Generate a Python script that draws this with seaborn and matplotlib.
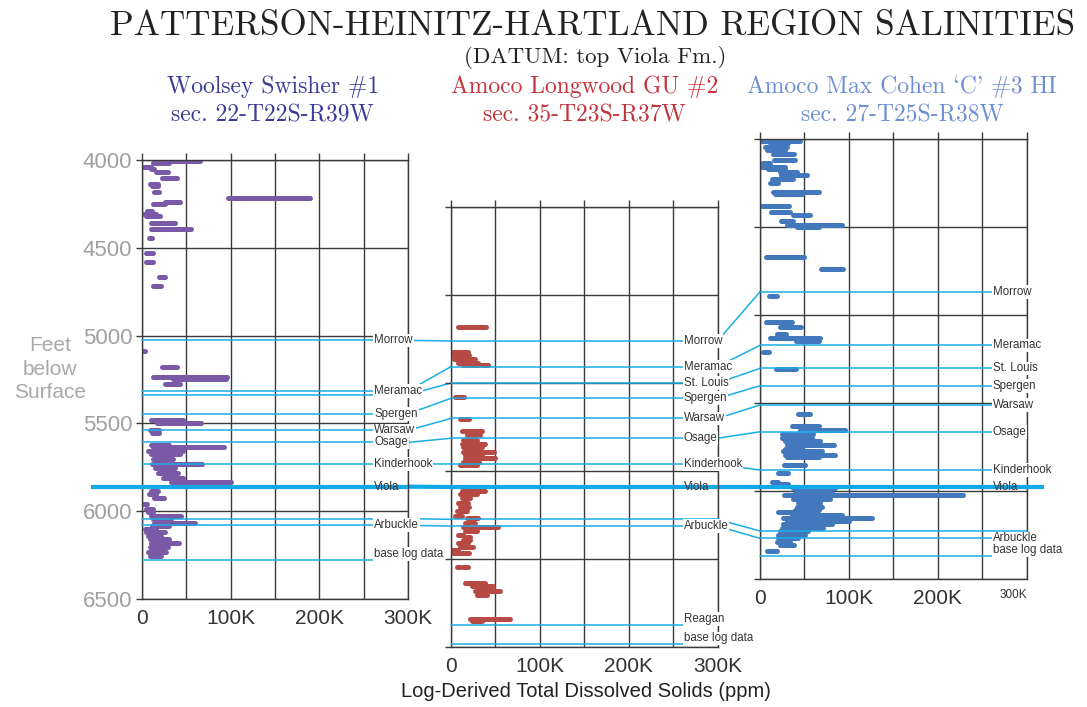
import matplotlib
matplotlib.use('Agg')
import matplotlib.pyplot as plt
from matplotlib.patches import ConnectionPatch
import seaborn as sns

# Woolsey Swisher #1 -- salinity intervals: depth (ft), TDS start/end (K ppm)
ws_depth = [4006, 4017, 4038, 4051, 4070, 4104, 4138, 4147, 4184, 4218, 4237, 4248,
            4288, 4305, 4319, 4361, 4395, 4441, 4532, 4581, 4667, 4716, 5085, 5176,
            5237, 5245, 5278, 5483, 5500, 5540, 5557, 5625, 5636, 5657, 5676, 5701,
            5733, 5752, 5780, 5809, 5833, 5847, 5885, 5904, 5923, 5960, 5985, 6004,
            6027, 6046, 6065, 6084, 6102, 6121, 6140, 6159, 6182, 6205, 6231, 6253]
ws_lo = [27, 12, 2, 10, 16, 22.5, 9.4, 11, 14, 97, 25.5, 12,
         5.6, 2, 5, 10.5, 10, 8, 5, 4.5, 19.6, 12, 0.5, 22.5,
         12, 35, 26, 10.5, 17.3, 8.6, 11, 10.5, 12.4, 6.8, 10.5, 12.4,
         11.3, 14.3, 18, 23.7, 33, 40, 10, 7.5, 13.5, 2, 4.9, 6.8,
         10.5, 12.4, 13.5, 11, 3, 5, 7, 8.6, 10.5, 8.6, 6.8, 8.6]
ws_hi = [65, 31, 10.5, 14, 29, 39.5, 18, 18, 19, 190, 42.5, 25.6,
         11, 16, 20, 37.6, 55.6, 11.7, 13, 12.8, 26, 21, 3.4, 40,
         95.5, 95, 43, 46, 67, 18.8, 18.8, 31, 92, 46, 42.5, 35,
         67.7, 36.8, 40.6, 46, 100, 98, 18, 16, 25, 6, 12.4, 12.4,
         43.7, 33, 60, 30, 16, 25.6, 21, 31, 41.4, 29.3, 27, 22]

# Amoco Longwood GU #2
lw_depth = [5684, 5822, 5841, 5865, 5884, 5898, 6078, 6205, 6273, 6296, 6324, 6347,
            6366, 6390, 6409, 6424, 6447, 6466, 6612, 6631, 6655, 6680, 6706, 6730,
            6753, 6769, 6797, 6817, 6839, 6864, 6877, 6891, 6911, 6930, 6949, 6968,
            7047, 7047, 7134, 7153, 7180, 7203, 7343, 7350]
lw_lo = [8.3, 2.6, 2.6, 3.8, 8.3, 14, 4.5, 10, 12, 17.6, 14, 12,
         14, 14, 15.8, 15.8, 14, 10, 12, 10, 12, 8.3, 10, 6.4,
         4.5, 17.6, 15.8, 14, 15.8, 7.5, 15.8, 14, 8.3, 10, 1.5, 2.6,
         6.4, 14, 15.8, 23.3, 27, 28.9, 21, 24]
lw_hi = [39, 19.5, 20, 27, 30, 42, 15, 20, 34.5, 32.6, 29, 38,
         35, 48, 35, 49.6, 31, 29, 38, 29, 21, 19.5, 20, 17.6,
         12, 30.8, 27, 53, 29, 14, 21, 21, 19.5, 25, 8.3, 20,
         10, 19.5, 38, 47.6, 55, 40, 66.5, 35]

# Amoco Max Cohen 'C' #3 HI
mc_depth = [4011, 4025, 4044, 4062, 4087, 4119, 4138, 4157, 4172, 4186, 4205, 4229,
            4252, 4299, 4311, 4379, 4413, 4432, 4464, 4489, 4498, 4669, 4739, 4890,
            5042, 5068, 5110, 5133, 5145, 5212, 5309, 5563, 5629, 5655, 5678, 5697,
            5716, 5739, 5761, 5772, 5795, 5804, 5852, 5896, 5951, 5962, 5981, 6004,
            6023, 6045, 6069, 6088, 6107, 6121, 6136, 6152, 6171, 6190, 6209, 6228,
            6247, 6266, 6289, 6309, 6341]
mc_lo = [1.9, 11, 5.6, 7.5, 15, 16, 1.9, 2.6, 9.4, 22.5, 24, 13,
         11, 15, 17, 2.6, 12.4, 37.6, 24, 30, 41.4, 6.4, 68.8, 10,
         6.4, 22.5, 19.5, 11, 40, 3, 18, 42.5, 36.5, 45, 24.4, 24.4,
         28, 30, 28, 26, 28, 30, 27, 20, 14, 17, 37.6, 39.5,
         27, 37.6, 43, 41.4, 39.5, 20.7, 35.7, 26, 30, 26, 24.4, 22.5,
         20.7, 20, 18.8, 22.5, 7.5]
mc_hi = [45, 32, 30, 28, 38.7, 39.5, 11, 28, 28, 41.4, 52.6, 37.6,
         20.7, 65.8, 47, 33, 33.8, 56, 37.6, 92, 66, 50, 93, 18.8,
         36.5, 46, 29, 67, 66, 10.5, 40.5, 56, 65.8, 96, 60, 58,
         67.7, 82.7, 47, 70, 84.6, 66, 51, 32, 20.7, 32, 84.6, 80.8,
         228, 79, 68, 69.5, 66, 64, 92, 126, 99.6, 80.8, 71, 54.5,
         50.7, 43, 33.8, 38.7, 18.8]

# formation tops (ft); empty text marks an unlabeled pick
ws_tops = ['Morrow', 'Meramac', 'St. Louis', 'Spergen', 'Warsaw', 'Osage',
           'Kinderhook', 'Viola', 'lower', 'Arbuckle', 'base log data']
ws_top_depth = [5027, 5315, 5337, 5445, 5540, 5608, 5731, 5860, 6042, 6080, 6278]
ws_top_text = ['Morrow', 'Meramac', '', 'Spergen', 'Warsaw', 'Osage',
               'Kinderhook', 'Viola', '', 'Arbuckle', 'base log data']

lw_tops = ['Morrow', 'Meramac', 'St. Louis', 'Spergen', 'Warsaw', 'Osage',
           'Kinderhook', 'Viola', 'lower', 'Arbuckle', 'Reagan', 'base log data']
lw_top_depth = [5761, 5907, 6000, 6087, 6201, 6314, 6460, 6591, 6775, 6813, 7375, 7485]
lw_top_text = ['Morrow', 'Meramac', 'St. Louis', 'Spergen', 'Warsaw', 'Osage',
               'Kinderhook', 'Viola', '', 'Arbuckle', 'Reagan', 'base log data']

mc_tops = ['Morrow', 'Meramac', 'St. Louis', 'Spergen', 'Warsaw', 'Osage',
           'Kinderhook', 'Viola', 'lower', 'Arbuckle', 'base log data']
mc_top_depth = [4868, 5172, 5303, 5402, 5511, 5663, 5881, 5977, 6227, 6269, 6369]
mc_top_text = ['Morrow', 'Meramac', 'St. Louis', 'Spergen', 'Warsaw', 'Osage',
               'Kinderhook', 'Viola', '', 'Arbuckle', 'base log data']

x_ticks = [0, 100000, 200000, 300000]
x_tick_labels = ['0', '100K', '200K', '300K']

sns.set_theme(style='white')
plt.rcParams['font.family'] = ['Liberation Sans', 'DejaVu Sans']

GRID = '#3a3a3a'
TOPC = '#1aaee6'
VIOLA = '#10a8e6'
SERIF = ['cmr10', 'DejaVu Serif']

fig = plt.figure(figsize=(10.87, 7.07), dpi=100)
fig.patch.set_facecolor('white')

panels = [
    dict(rect=[0.1306, 0.1527, 0.2447, 0.6209], ylim=(6500, 4000), color='#7a5aa6',
         depth=ws_depth, lo=ws_lo, hi=ws_hi, tops=ws_tops, tdep=ws_top_depth, ttxt=ws_top_text),
    dict(rect=[0.4149, 0.0849, 0.2452, 0.6223], ylim=(7500, 5000), color='#b84a46',
         depth=lw_depth, lo=lw_lo, hi=lw_hi, tops=lw_tops, tdep=lw_top_depth, ttxt=lw_top_text),
    dict(rect=[0.6992, 0.1810, 0.2453, 0.6223], ylim=(6500, 4000), color='#4378bd',
         depth=mc_depth, lo=mc_lo, hi=mc_hi, tops=mc_tops, tdep=mc_top_depth, ttxt=mc_top_text),
]

axes = []
for i, p in enumerate(panels):
    ax = fig.add_axes(p['rect'])
    ax.patch.set_alpha(0)
    ax.set_xlim(0, 300000)
    ax.set_ylim(*p['ylim'])
    ax.set_xticks(x_ticks)
    ax.set_xticklabels(x_tick_labels)
    ax.set_xticks([50000, 150000, 250000], minor=True)
    ax.set_yticks(range(p['ylim'][1], p['ylim'][0] + 1, 500))
    ax.grid(which='both', color=GRID, lw=1.0)
    ax.set_axisbelow(True)
    for s in ax.spines.values():
        s.set_color(GRID)
        s.set_linewidth(1.0)
    ax.tick_params(axis='x', which='both', top=True, bottom=False, direction='out',
                   length=5, width=1, color=GRID, labelsize=15, labelcolor='#333333', pad=2)
    ax.tick_params(axis='y', left=True, right=False, direction='out', length=4, width=1,
                   color=GRID, labelsize=16, labelcolor='#a0a0a0', pad=3)
    if i > 0:
        ax.set_yticklabels([])

    # salinity bars
    ax.hlines(p['depth'], [v * 1000 for v in p['lo']], [v * 1000 for v in p['hi']],
              color=p['color'], lw=3.6, capstyle='round', zorder=2)

    # formation tops and labels
    for name, d, txt in zip(p['tops'], p['tdep'], p['ttxt']):
        if name == 'Viola':
            x0 = -58000 if i == 0 else 0
            x1 = 320000 if i == 2 else 300000
            ax.plot([x0, x1], [d, d], color=VIOLA, lw=3.0, clip_on=False, zorder=3,
                    solid_capstyle='butt')
        else:
            ax.plot([0, 300000], [d, d], color=TOPC, lw=1.1, clip_on=False, zorder=3)
        if txt:
            va = 'bottom' if txt in ('base log data', 'Reagan') else 'center'
            bbox = None if txt == 'Viola' else dict(fc='white', ec='none', pad=0.6)
            ax.text(262000, d, txt, fontsize=8.3, color='#333333', va=va, ha='left',
                    zorder=4, clip_on=False, bbox=bbox)
    axes.append(ax)

# small 300K label on the right-hand panel
lab = axes[2].get_xticklabels()[-1]
lab.set_fontsize(8.5)
lab.set_ha('right')

# correlation lines between wells
for a, b in [(0, 1), (1, 2)]:
    pa, pb = panels[a], panels[b]
    for name, d in zip(pa['tops'], pa['tdep']):
        if name in pb['tops'] and name not in ('base log data', 'Reagan'):
            d2 = pb['tdep'][pb['tops'].index(name)]
            viola = name == 'Viola'
            con = ConnectionPatch(xyA=(300000, d), coordsA=axes[a].transData,
                                  xyB=(0, d2), coordsB=axes[b].transData,
                                  color=VIOLA if viola else TOPC,
                                  lw=3.0 if viola else 1.1, zorder=-1)
            fig.add_artist(con)

# titles
fig.text(0.545, 0.963, 'PATTERSON-HEINITZ-HARTLAND REGION SALINITIES', family=SERIF,
         fontsize=25.2, ha='center', va='center', color='#222222')
fig.text(0.548, 0.918, '(DATUM: top Viola Fm.)', family=SERIF, fontsize=16.5,
         ha='center', va='center', color='#222222')
wells = [('Woolsey Swisher #1', 'sec. 22-T22S-R39W', 0.251, '#3b3b9a'),
         ('Amoco Longwood GU #2', 'sec. 35-T23S-R37W', 0.538, '#c4343c'),
         ("Amoco Max Cohen `C' #3 HI", 'sec. 27-T25S-R38W', 0.830, '#6f8fd4')]
for name, sec, xc, c in wells:
    fig.text(xc, 0.878, name, family=SERIF, fontsize=17, ha='center', va='center', color=c)
    fig.text(xc, 0.837, sec, family=SERIF, fontsize=17, ha='center', va='center', color=c)

fig.text(0.046, 0.478, 'Feet\nbelow\nSurface', fontsize=15, color='#a8a8a8',
         ha='center', va='center', linespacing=1.3)
fig.text(0.539, 0.022, 'Log-Derived Total Dissolved Solids (ppm)', fontsize=14.5,
         color='#222222', ha='center', va='center')

fig.savefig('out.png', dpi=100, facecolor='white')
